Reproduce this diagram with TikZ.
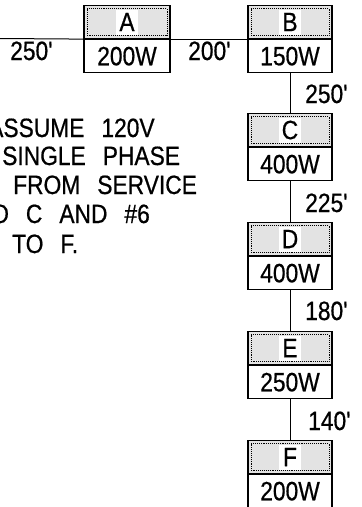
\documentclass[tikz,border=0pt]{standalone}
\usepackage{fontspec}
\newfontfamily\cad{Liberation Sans}[FakeStretch=0.86,FakeBold=0.6]
\begin{document}
\begin{tikzpicture}[x=1pt,y=-1pt,
  every node/.style={font=\cad\fontsize{26.5}{32}\selectfont},
  hdr/.style={draw, line width=1.1pt, minimum width=84pt, minimum height=33pt,
    inner sep=0pt, fill=gray!22, anchor=north,
    path picture={
      \fill[white] ([shift={(-11pt,-13pt)}]path picture bounding box.center) rectangle ([shift={(11pt,12pt)}]path picture bounding box.center);
      \draw[densely dotted, line width=0.9pt] ([shift={(3pt,-3pt)}]path picture bounding box.north west) rectangle ([shift={(-3pt,3pt)}]path picture bounding box.south east);}},
  wbox/.style={draw, line width=1.1pt, minimum width=84pt, minimum height=33pt,
    inner sep=0pt, fill=white, anchor=north},
  conn/.style={line width=1pt},
  dist/.style={anchor=base west, inner sep=0pt},
  note/.style={anchor=base west, inner sep=0pt, execute at begin node={\spaceskip=17pt}}
]
\useasboundingbox (0,0) rectangle (362,507);
\clip (0,0) rectangle (362,507);

% boxes
\node[hdr, minimum width=86pt] (A) at (127,5) {A};
\node[wbox, minimum width=86pt] (Aw) at (A.south) {200W};
\node[hdr] (B) at (290,5) {B};
\node[wbox] (Bw) at (B.south) {150W};
\node[hdr] (C) at (290,113) {C};
\node[wbox] (Cw) at (C.south) {400W};
\node[hdr] (D) at (290,222) {D};
\node[wbox] (Dw) at (D.south) {400W};
\node[hdr] (E) at (290,331) {E};
\node[wbox] (Ew) at (E.south) {250W};
\node[hdr] (F) at (290,440) {F};
\node[wbox] (Fw) at (F.south) {200W};

% connectors
\coordinate (in) at (0,38.5);
\draw[conn] (in) -- (Aw.north west);
\draw[conn] (Aw.north east) -- (Bw.north west);
\draw[conn] (Bw.south) -- (C.north);
\draw[conn] (Cw.south) -- (D.north);
\draw[conn] (Dw.south) -- (E.north);
\draw[conn] (Ew.south) -- (F.north);

% distances
\node[dist] (d1) at (10,60) {250'};
\node[dist] (d2) at (188,60) {200'};
\node[dist] (d3) at (305,103) {250'};
\node[dist] (d4) at (305,212) {225'};
\node[dist] (d5) at (305,320) {180'};
\node[dist] (d6) at (308,430) {140'};

% note
\node[note] (n1) at (-12,137) {ASSUME 120V};
\node[note] (n2) at (2,165) {SINGLE PHASE};
\node[note] (n3) at (13,194) {FROM SERVICE};
\node[note] (n4) at (-9,223) {O C AND \#6};
\node[note] (n5) at (12,253) {TO F.};
\end{tikzpicture}
\end{document}
